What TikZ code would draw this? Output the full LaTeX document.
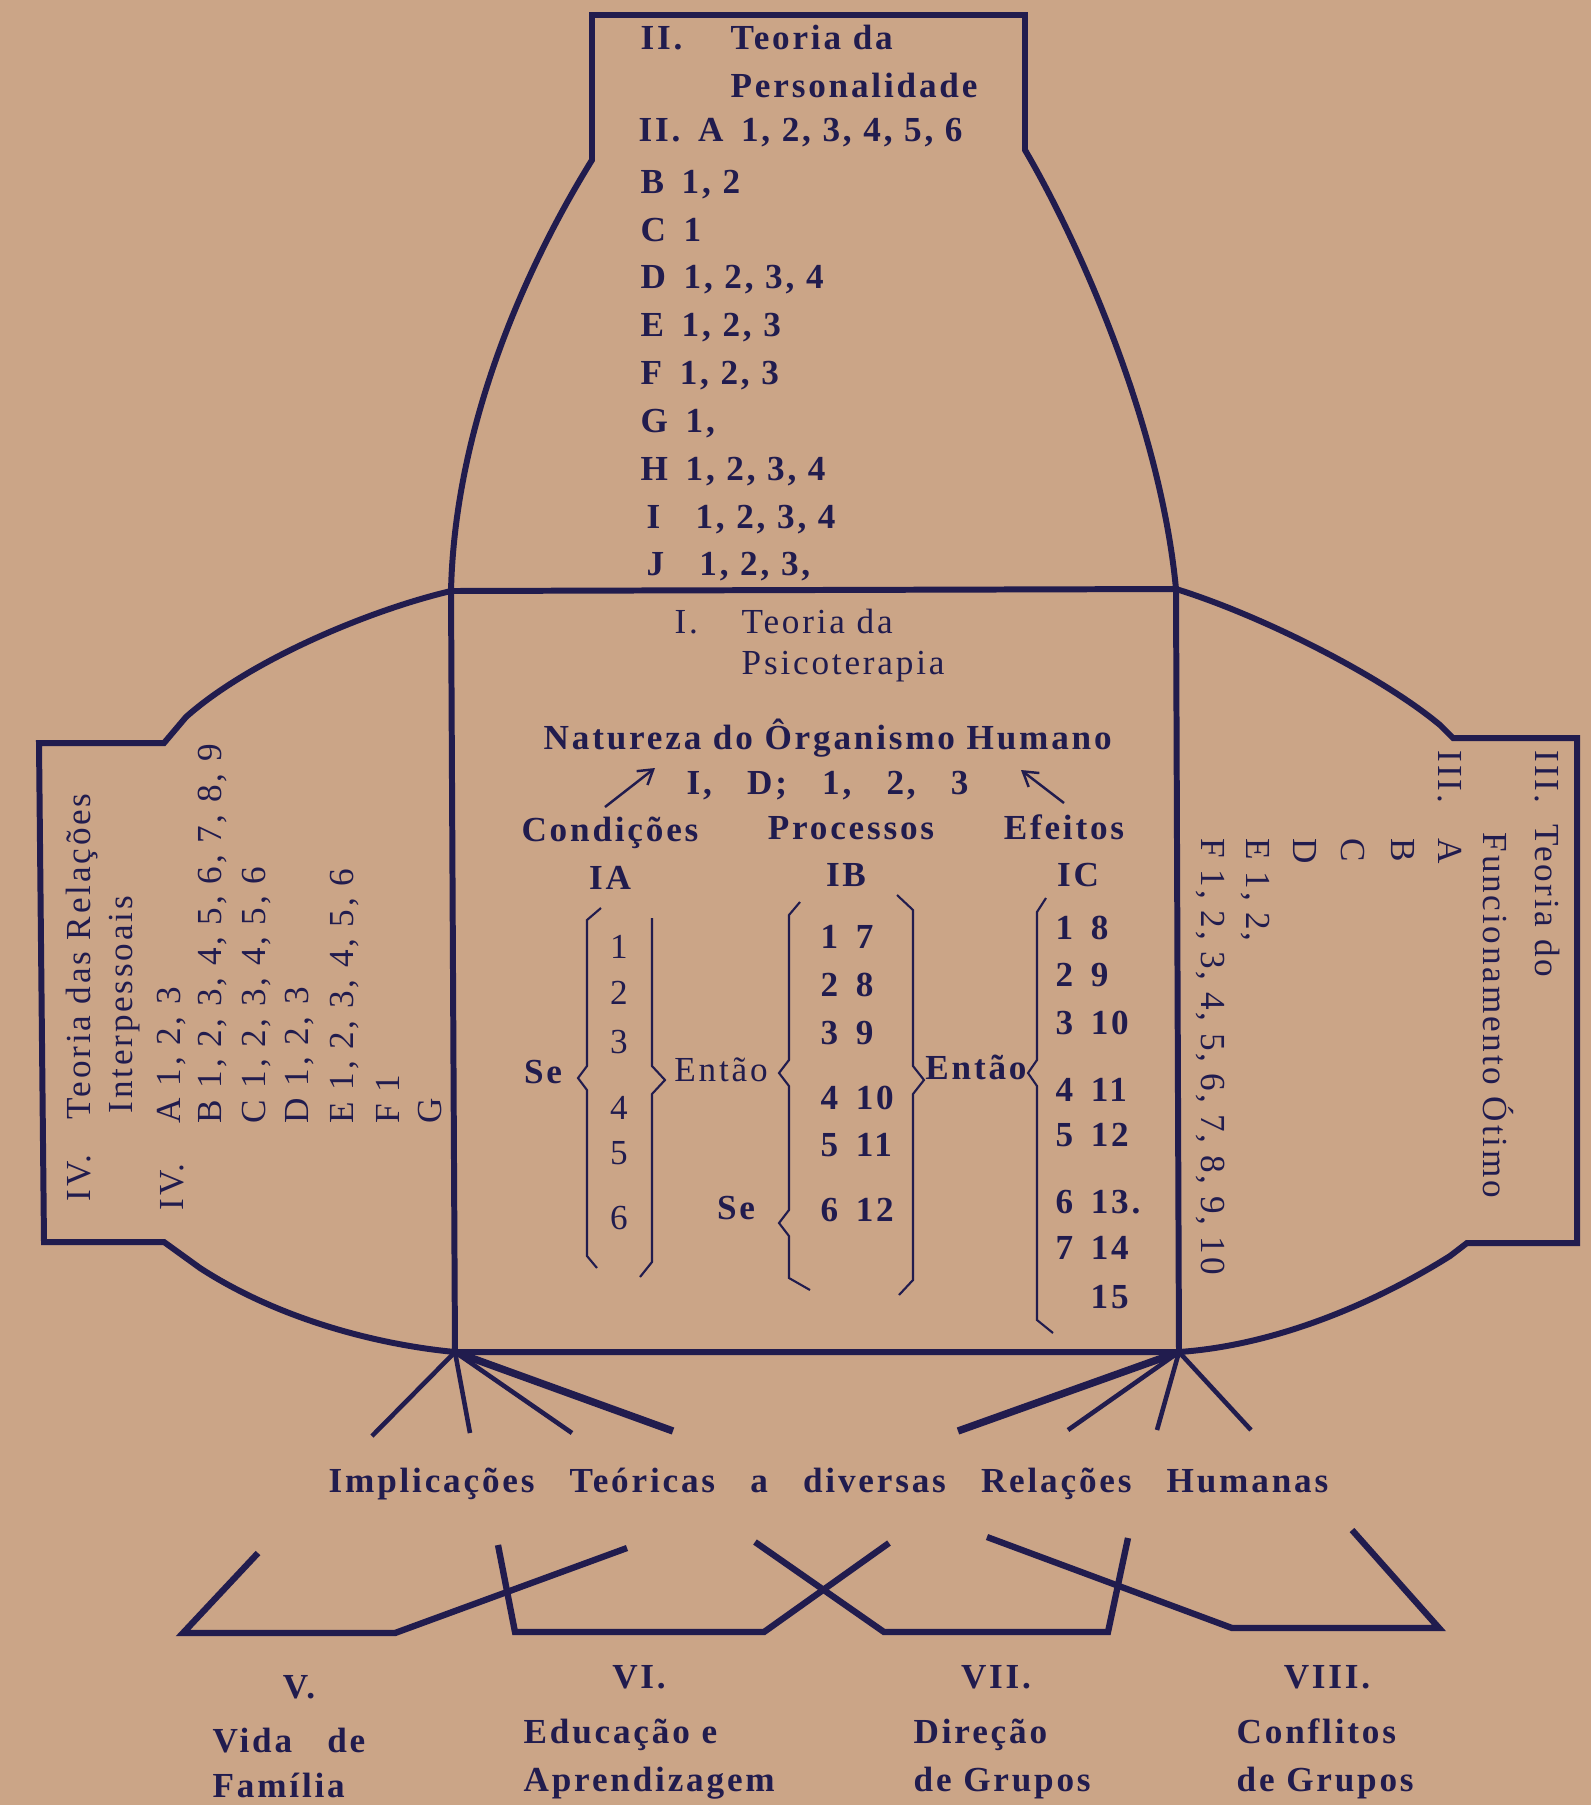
\documentclass[tikz,border=0pt]{standalone}
\usepackage{fontspec}
\setmainfont{Liberation Serif}[LetterSpace=8]
\usetikzlibrary{arrows.meta}
\definecolor{paper}{RGB}{203,165,135}
\definecolor{ink}{RGB}{33,28,78}
\tikzset{
	outline/.style={draw=ink, line width=1.7pt, line join=miter},
	fan/.style={draw=ink, line width=1.3pt},
	heavyfan/.style={draw=ink, line width=2.1pt},
	lowpath/.style={draw=ink, line width=1.8pt, line join=miter},
	brc/.style={draw=ink, line width=0.6pt},
	arr/.style={draw=ink, line width=0.7pt, -{Straight Barb[length=4pt, width=5pt]}},
	txt/.style={text=ink, inner sep=0pt, font=\bfseries},
	ltxt/.style={text=ink, inner sep=0pt},
	upside/.style={rotate=90, anchor=west},
	downside/.style={rotate=-90, anchor=west}
}

\begin{document}
\begin{tikzpicture}[x=0.01cm, y=-0.01cm]
	\fill[paper] (0,0) rectangle (1591,1805);
	\useasboundingbox (0,0) rectangle (1591,1805);

	% central box and its corners
	\coordinate (tl) at (451,591);
	\coordinate (tr) at (1176,589);
	\coordinate (bl) at (455,1352);
	\coordinate (br) at (1179,1352);
	\draw[outline] (tl) -- (tr) -- (br) -- (bl) -- cycle;
	\draw[outline] (tl) .. controls (455,420) and (530,260) .. (592,160) -- (592,15) -- (1025,15) -- (1025,150) .. controls (1075,235) and (1160,420) .. (tr);
	\draw[outline] (tl) .. controls (370,610) and (250,660) .. (186,717) -- (164,743) -- (39,743) -- (44,1242) -- (164,1242) -- (200,1268) .. controls (280,1320) and (380,1345) .. (bl);
	\draw[outline] (tr) .. controls (1260,615) and (1380,675) .. (1440,725) -- (1453,738) -- (1577,738) -- (1577,1243) -- (1467,1243) -- (1450,1256) .. controls (1380,1300) and (1280,1345) .. (br);

	% II
	\node[txt, anchor=base west] (ii) at (640,49) {II.};
	\node[txt, anchor=base west] (iit1) at (730,49) {Teoria da};
	\node[txt, anchor=base west] (iit2) at (730,97) {Personalidade};
	\node[txt, anchor=base west] (iiA) at (638,141) {II.\enspace A\enspace 1, 2, 3, 4, 5, 6};
	\node[txt, anchor=base west] (iiB) at (640,193) {B\enspace 1, 2};
	\node[txt, anchor=base west] (iiC) at (640,241) {C\enspace 1};
	\node[txt, anchor=base west] (iiD) at (640,288) {D\enspace 1, 2, 3, 4};
	\node[txt, anchor=base west] (iiE) at (640,336) {E\enspace 1, 2, 3};
	\node[txt, anchor=base west] (iiF) at (640,384) {F\enspace 1, 2, 3};
	\node[txt, anchor=base west] (iiG) at (640,432) {G\enspace 1,};
	\node[txt, anchor=base west] (iiH) at (640,480) {H\enspace 1, 2, 3, 4};
	\node[txt, anchor=base west] (iiI) at (646,528) {I\quad 1, 2, 3, 4};
	\node[txt, anchor=base west] (iiJ) at (646,575) {J\quad 1, 2, 3,};

	% I
	\node[ltxt, anchor=base west] (i) at (674,633) {I.};
	\node[ltxt, anchor=base west] (it1) at (741,633) {Teoria da};
	\node[ltxt, anchor=base west] (it2) at (741,674) {Psicoterapia};
	\node[txt, anchor=base west] (nat) at (543,749) {Natureza do Ôrganismo Humano};
	\node[txt, anchor=base west] (ref) at (686,794) {I,\quad D;\quad 1,\quad 2,\quad 3};
	\node[txt, anchor=base] (cond) at (610,841) {Condições};
	\node[txt, anchor=base] (proc) at (851,839) {Processos};
	\node[txt, anchor=base] (efei) at (1064,839) {Efeitos};
	\coordinate (condtip) at (655,768);
	\coordinate (condtail) at (605,807);
	\coordinate (efeitip) at (1021,770);
	\coordinate (efeitail) at (1064,803);
	\draw[arr] (condtail) -- (condtip);
	\draw[arr] (efeitail) -- (efeitip);
	\node[txt] (ia) at (610,878) {IA};
	\node[txt] (ib) at (846,875) {IB};
	\node[txt] (ic) at (1078,875) {IC};

	\draw[brc] (601,908) -- (587,920) -- (587,1066) -- (578,1078) -- (587,1090) -- (587,1256) -- (597,1268);
	\draw[brc] (652,918) -- (652,1066) -- (665,1080) -- (652,1094) -- (652,1262) -- (640,1277);
	\draw[brc] (800,902) -- (789,915) -- (789,1060) -- (779,1073) -- (789,1086) -- (789,1210) -- (779,1223) -- (789,1236) -- (789,1278) -- (810,1290);
	\draw[brc] (897,895) -- (913,910) -- (913,1066) -- (924,1080) -- (913,1094) -- (913,1280) -- (899,1295);
	\draw[brc] (1046,898) -- (1037,912) -- (1037,1060) -- (1028,1073) -- (1037,1086) -- (1037,1320) -- (1053,1333);

	\foreach \n/\y in {1/947, 2/993, 3/1042, 4/1108, 5/1153, 6/1218}
		\node[ltxt] (ia\n) at (619,\y) {\n};
	\foreach \a/\b/\y in {1/7/937, 2/8/985, 3/9/1033, 4/10/1098, 5/11/1145, 6/12/1210}
		\node[txt, anchor=west] (ib\a) at (820,\y) {\a\enspace\b};
	\foreach \a/\b/\y in {1/8/928, 2/9/975, 3/10/1023, 4/11/1090, 5/12/1135, 6/13./1202, 7/14/1248}
		\node[txt, anchor=west] (ic\a) at (1055,\y) {\a\enspace\b};
	\node[txt, anchor=west] (ic8) at (1090,1297) {15};

	\node[txt] (se1) at (543,1072) {Se};
	\node[ltxt] (entao1) at (721,1070) {Então};
	\node[txt] (se2) at (736,1208) {Se};
	\node[txt] (entao2) at (976,1067) {Então};

	% IV
	\node[ltxt, upside] (ivt1) at (82,1202) {IV.\quad Teoria das Relações};
	\node[ltxt, upside] (ivt2) at (125,1114) {Interpessoais};
	\node[ltxt, upside] (iv) at (172,1211) {IV.};
	\node[ltxt, upside] (ivA) at (172,1124) {A 1, 2, 3};
	\node[ltxt, upside] (ivB) at (213,1124) {B 1, 2, 3, 4, 5, 6, 7, 8, 9};
	\node[ltxt, upside] (ivC) at (257,1124) {C 1, 2, 3, 4, 5, 6};
	\node[ltxt, upside] (ivD) at (300,1124) {D 1, 2, 3};
	\node[ltxt, upside] (ivE) at (345,1124) {E 1, 2, 3, 4, 5, 6};
	\node[ltxt, upside] (ivF) at (388,1124) {F 1};
	\node[ltxt, upside] (ivG) at (430,1124) {G};

	% III
	\node[ltxt, downside] (iiit1) at (1547,750) {III.\hspace{0.6em}Teoria do};
	\node[ltxt, downside] (iiit2) at (1498,832) {Funcionamento Ótimo};
	\node[ltxt, downside] (iii) at (1450,750) {III.};
	\node[ltxt, downside] (iiiA) at (1450,838) {A};
	\node[ltxt, downside] (iiiB) at (1403,838) {B};
	\node[ltxt, downside] (iiiC) at (1353,838) {C};
	\node[ltxt, downside] (iiiD) at (1305,838) {D};
	\node[ltxt, downside] (iiiE) at (1255,838) {E 1, 2,};
	\node[ltxt, downside] (iiiF) at (1210,838) {F 1, 2, 3, 4, 5, 6, 7, 8, 9, 10};

	% implications
	\coordinate (fl1) at (372,1436);
	\coordinate (fl2) at (470,1433);
	\coordinate (fl3) at (572,1433);
	\coordinate (fl4) at (673,1431);
	\coordinate (fr1) at (958,1431);
	\coordinate (fr2) at (1068,1430);
	\coordinate (fr3) at (1157,1430);
	\coordinate (fr4) at (1251,1430);
	\foreach \i in {1,2,3}
		\draw[fan] (bl) -- (fl\i);
	\draw[heavyfan] (bl) -- (fl4);
	\draw[heavyfan] (br) -- (fr1);
	\foreach \i in {2,3,4}
		\draw[fan] (br) -- (fr\i);
	\node[txt, anchor=base west] (impl) at (328,1492) {Implicações\quad Teóricas\quad a\quad diversas\quad Relações\quad Humanas};

	\draw[lowpath] (258,1553) -- (183,1633) -- (395,1633) -- (627,1548);
	\draw[lowpath] (498,1545) -- (515,1632) -- (764,1632) -- (889,1543);
	\draw[lowpath] (755,1542) -- (884,1632) -- (1108,1632) -- (1128,1538);
	\draw[lowpath] (987,1537) -- (1232,1628) -- (1439,1628) -- (1352,1530);

	\node[txt, anchor=base] (v) at (299,1698) {V.};
	\node[txt, anchor=base west] (v1) at (212,1752) {Vida\quad de};
	\node[txt, anchor=base west] (v2) at (212,1797) {Família};
	\node[txt, anchor=base] (vi) at (639,1688) {VI.};
	\node[txt, anchor=base west] (vi1) at (523,1743) {Educação e};
	\node[txt, anchor=base west] (vi2) at (523,1791) {Aprendizagem};
	\node[txt, anchor=base] (vii) at (996,1688) {VII.};
	\node[txt, anchor=base west] (vii1) at (913,1743) {Direção};
	\node[txt, anchor=base west] (vii2) at (913,1791) {de Grupos};
	\node[txt, anchor=base] (viii) at (1327,1688) {VIII.};
	\node[txt, anchor=base west] (viii1) at (1236,1743) {Conflitos};
	\node[txt, anchor=base west] (viii2) at (1236,1791) {de Grupos};
\end{tikzpicture}
\end{document}
